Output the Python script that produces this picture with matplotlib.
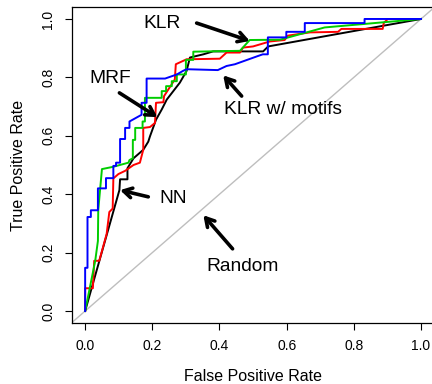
import matplotlib
matplotlib.use("Agg")
import matplotlib.pyplot as plt

plt.rcParams['font.family'] = ['Liberation Sans', 'DejaVu Sans']

# ROC curves (false positive rate, true positive rate)
klr_fpr = [0.0, 0.102, 0.104, 0.126, 0.126, 0.144, 0.173, 0.188, 0.193, 0.211,
           0.228, 0.243, 0.282, 0.302, 0.312, 0.352, 0.381, 0.53, 0.545, 1.0]
klr_tpr = [0.0, 0.414, 0.451, 0.451, 0.489, 0.523, 0.552, 0.58, 0.598, 0.655,
           0.69, 0.724, 0.782, 0.822, 0.868, 0.879, 0.889, 0.889, 0.906, 1.0]

mrf_fpr = [0.0, 0.0, 0.023, 0.027, 0.042, 0.064, 0.072, 0.082, 0.084, 0.099,
           0.119, 0.144, 0.163, 0.173, 0.173, 0.193, 0.208, 0.211, 0.233, 0.235,
           0.267, 0.27, 0.302, 0.401, 0.421, 0.461, 0.47, 0.5, 0.55, 0.594,
           0.604, 0.669, 0.753, 0.763, 0.886, 0.889, 0.901, 1.0]
mrf_tpr = [0.0, 0.078, 0.078, 0.172, 0.172, 0.264, 0.339, 0.351, 0.454, 0.469,
           0.48, 0.5, 0.508, 0.552, 0.627, 0.63, 0.644, 0.713, 0.715, 0.736,
           0.793, 0.845, 0.862, 0.864, 0.885, 0.885, 0.902, 0.906, 0.923, 0.928,
           0.943, 0.954, 0.956, 0.966, 0.966, 0.986, 1.0, 1.0]

nn_fpr = [0.0, 0.03, 0.038, 0.039, 0.05, 0.084, 0.129, 0.132, 0.142,
          0.142, 0.149, 0.149, 0.171, 0.171, 0.178, 0.178, 0.228, 0.228, 0.241,
          0.241, 0.258, 0.258, 0.273, 0.273, 0.3, 0.3, 0.322, 0.322, 0.461,
          0.49, 0.58, 0.713, 1.0]
nn_tpr = [0.0, 0.172, 0.24, 0.345, 0.486, 0.494, 0.508, 0.517, 0.523,
          0.586, 0.586, 0.627, 0.627, 0.649, 0.649, 0.73, 0.73, 0.753, 0.753,
          0.77, 0.77, 0.787, 0.787, 0.81, 0.81, 0.86, 0.86, 0.888, 0.891,
          0.928, 0.929, 0.971, 1.0]

motif_fpr = [0.0, 0.0, 0.007, 0.007, 0.017, 0.017, 0.038, 0.038, 0.062, 0.062,
             0.084, 0.084, 0.092, 0.092, 0.104, 0.104, 0.119, 0.119, 0.132, 0.132,
             0.168, 0.168, 0.183, 0.183, 0.238, 0.273, 0.291, 0.302, 0.395, 0.421,
             0.446, 0.514, 0.529, 0.544, 0.544, 0.599, 0.599, 0.654, 0.654, 0.832,
             0.832, 1.0]
motif_tpr = [0.0, 0.148, 0.148, 0.322, 0.322, 0.345, 0.345, 0.42, 0.42, 0.455,
             0.455, 0.497, 0.497, 0.508, 0.508, 0.589, 0.589, 0.627, 0.627, 0.649,
             0.672, 0.713, 0.713, 0.796, 0.796, 0.81, 0.822, 0.828, 0.825, 0.839,
             0.845, 0.873, 0.879, 0.879, 0.937, 0.937, 0.956, 0.956, 0.986, 0.986,
             1.0, 1.0]

ticks = [0.0, 0.2, 0.4, 0.6, 0.8, 1.0]
tick_labels = ['0.0', '0.2', '0.4', '0.6', '0.8', '1.0']

# label text, text position, arrow tail, arrow head
notes = [
    ('KLR', (0.228, 0.983), (0.332, 0.986), (0.49, 0.925)),
    ('KLR w/ motifs', (0.588, 0.69), (0.466, 0.736), (0.411, 0.807)),
    ('MRF', (0.074, 0.797), (0.102, 0.747), (0.215, 0.664)),
    ('NN', (0.262, 0.385), (0.188, 0.391), (0.104, 0.414)),
    ('Random', (0.47, 0.152), (0.439, 0.213), (0.352, 0.328)),
]

fig = plt.figure(figsize=(4.32, 3.84), dpi=100)
ax = fig.add_axes([0.166, 0.1596, 0.8396, 0.8214])

ax.axline((0, 0), (1, 1), color='#bebebe', lw=1.0)
ax.plot(klr_fpr, klr_tpr, color='black', lw=1.4)
ax.plot(mrf_fpr, mrf_tpr, color='#ff0000', lw=1.4)
ax.plot(nn_fpr, nn_tpr, color='#00cd00', lw=1.4)
ax.plot(motif_fpr, motif_tpr, color='#0000ff', lw=1.4)

for label, pos, tail, head in notes:
    ax.text(pos[0], pos[1], label, ha='center', va='center', fontsize=13.8)
    ax.annotate('', xy=head, xytext=tail,
                arrowprops=dict(arrowstyle='->,head_length=0.6,head_width=0.35',
                                lw=2.6, color='black', shrinkA=0, shrinkB=0))

ax.set_xlim(-0.04, 1.04)
ax.set_ylim(-0.04, 1.04)
ax.set_xticks(ticks)
ax.set_xticklabels(tick_labels)
ax.set_yticks(ticks)
ax.set_yticklabels(tick_labels, rotation=90, va='center')
ax.tick_params(direction='out', length=5, width=0.8, labelsize=10, pad=7)
ax.set_xlabel('False Positive Rate', fontsize=11.5, labelpad=11)
ax.set_ylabel('True Positive Rate', fontsize=11.5, labelpad=11)
for s in ax.spines.values():
    s.set_linewidth(0.9)

fig.savefig('out.png', dpi=100)
